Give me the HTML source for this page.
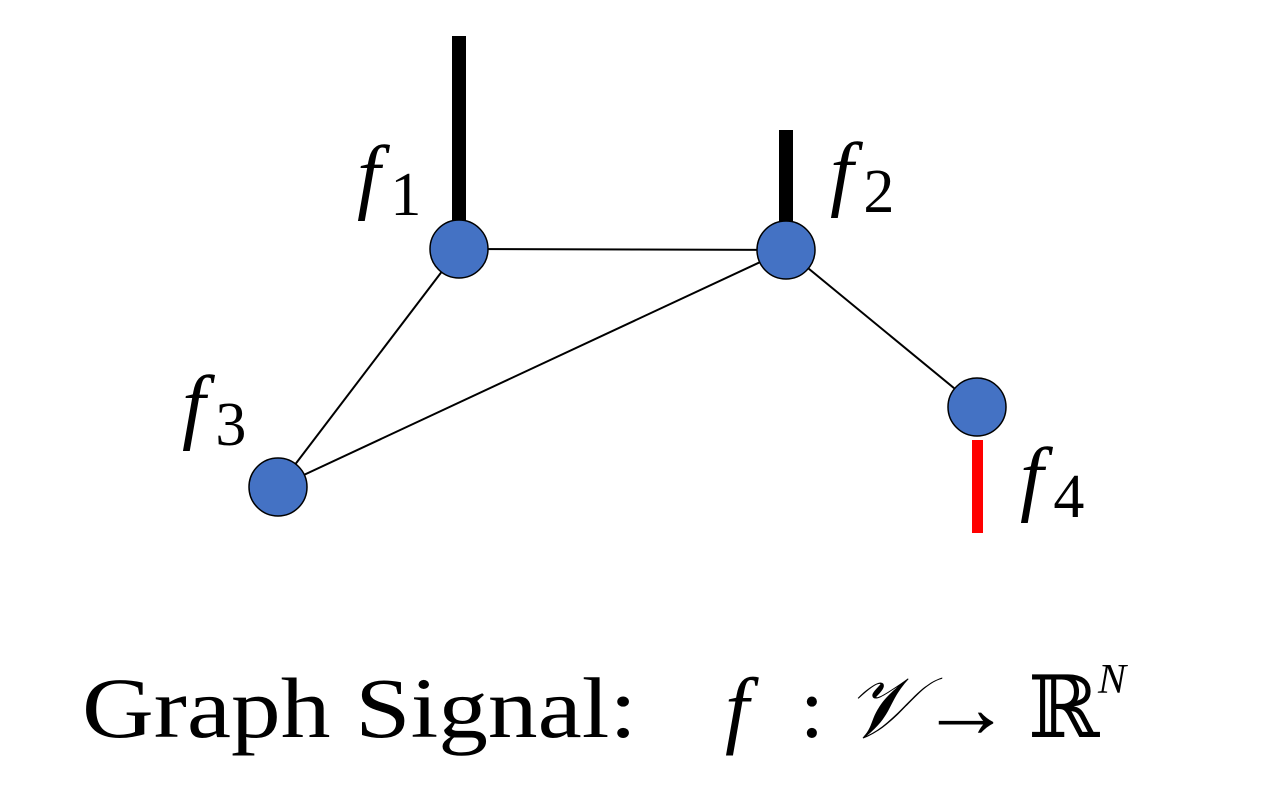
<!DOCTYPE html>
<html><head><meta charset="utf-8"><style>
html,body{margin:0;padding:0;background:#fff;}
svg{display:block;}
</style></head><body>
<svg id="chart" width="1263" height="788" viewBox="0 0 1263 788" xmlns="http://www.w3.org/2000/svg">
<g id="edges"></g>
<g id="bars"></g>
<g id="nodes"></g>
<g id="labels"></g>
<text x="82" y="737" font-family="Liberation Serif, serif" font-size="86" fill="#000" textLength="555" lengthAdjust="spacingAndGlyphs">Graph Signal:</text>
<g font-family="Liberation Serif, serif" fill="#000">
<text x="725" y="737" font-size="86" font-style="italic">f</text>
<text x="800" y="737" font-size="86">:</text>
<text x="845" y="737" font-size="86" font-style="italic">𝒱</text>
<text x="920" y="737" font-size="86" textLength="92" lengthAdjust="spacingAndGlyphs">→</text>
<text x="1028" y="737" font-size="86" font-family="DejaVu Serif, serif">ℝ</text>
<text x="1098" y="693" font-size="42" font-style="italic">N</text>
</g>
</svg>
<script>
const nodeNames = ['1','2','3','4'];
const nodeX = [459, 786, 278, 977];
const nodeY = [249, 250, 487, 407];
const signalValues = [2, 1, 0, -1];
const edgesFrom = [0, 0, 1, 1];
const edgesTo = [1, 2, 2, 3];
const unit = 93, r = 29;
const NS = 'http://www.w3.org/2000/svg';
function mk(tag, attrs, parent){const e=document.createElementNS(NS,tag);for(const k in attrs)e.setAttribute(k,attrs[k]);parent.appendChild(e);return e;}
const gE=document.getElementById('edges'),gB=document.getElementById('bars'),gN=document.getElementById('nodes'),gL=document.getElementById('labels');
edgesFrom.forEach((a,i)=>{const b=edgesTo[i];
 const l=mk('line',{x1:nodeX[a],y1:nodeY[a],x2:nodeX[b],y2:nodeY[b],stroke:'#000','stroke-width':2},gE);
 
 });
signalValues.forEach((v,i)=>{
 if(v===0)return;
 const h=Math.abs(v)*unit;
 let rect;
 if(v>0) rect=mk('rect',{x:nodeX[i]-7,y:nodeY[i]-27-h,width:14,height:h,fill:'#000'},gB);
 else rect=mk('rect',{x:nodeX[i]-5,y:nodeY[i]+33,width:11,height:h,fill:'#ff0000'},gB);
 
 });
const lx=[-102,44,-96,43], ly=[-46,-50,-54,98];
nodeX.forEach((x,i)=>{
 const c=mk('circle',{cx:x,cy:nodeY[i],r:r,fill:'#4472c4',stroke:'#000','stroke-width':1.5},gN);
 
 
 const t=mk('text',{x:x+lx[i],y:nodeY[i]+ly[i],'font-family':'Liberation Serif, serif','font-size':84,'font-style':'italic',fill:'#000'},gL);
 
 
 t.textContent='f';
 const s=mk('tspan',{'font-size':62,'font-style':'normal',dx:10,dy:12},t);
 s.textContent=nodeNames[i];});
</script>
</body></html>
